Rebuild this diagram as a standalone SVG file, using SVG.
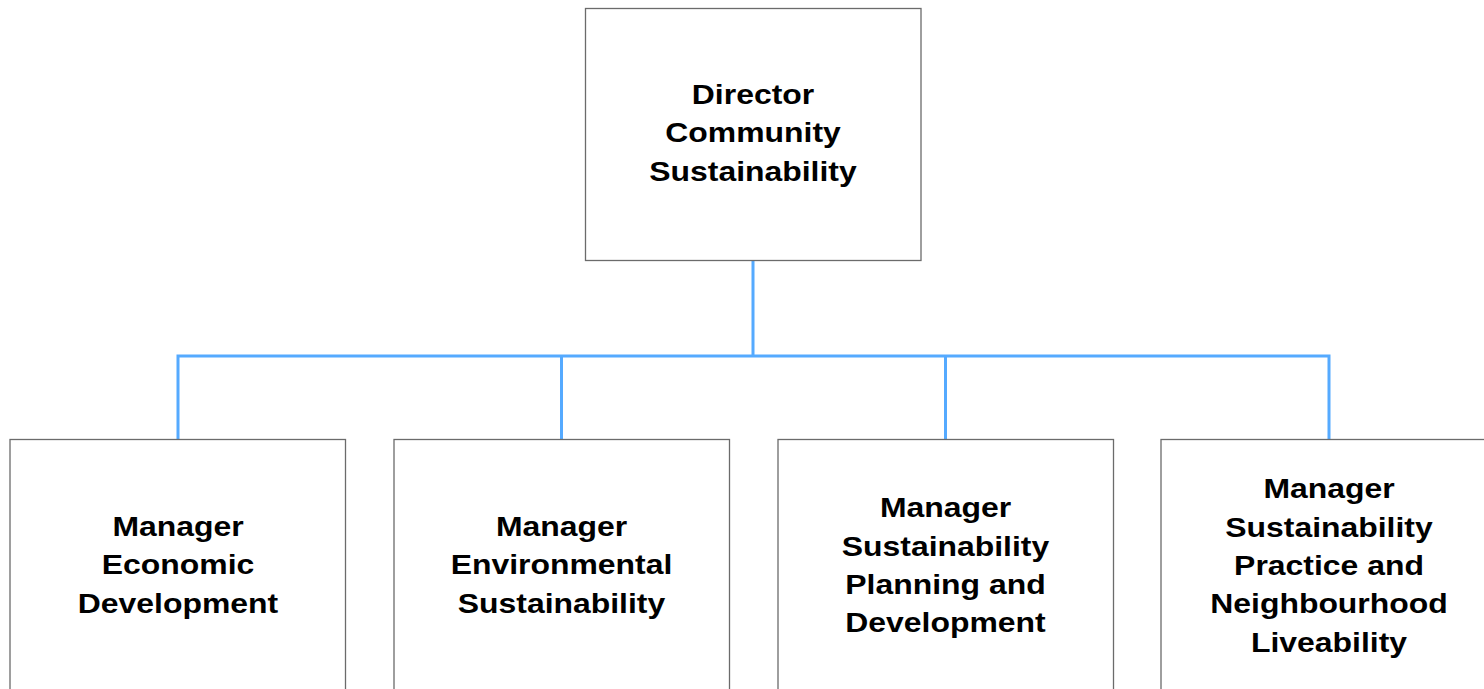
<svg xmlns="http://www.w3.org/2000/svg" width="1484" height="689" viewBox="0 0 1484 689">
<style>
.box{fill:#ffffff;stroke:#6b6b6b;stroke-width:1.3}
.lbl{font-family:"Liberation Sans",Arial,sans-serif;font-weight:bold;font-size:28px;fill:#000;text-anchor:middle}
.conn{fill:none;stroke:#55aaff;stroke-width:3}
</style>
<rect width="1484" height="689" fill="#ffffff"/>
<g id="connectors">
<path class="conn" d="M753 261 V356 M178 439 V356 H1329 V439 M561.5 356 V439 M945.5 356 V439"/>
</g>
<g id="director">
<rect class="box" x="585.5" y="8.5" width="335.5" height="252"/>
<g transform="translate(753 0) scale(1.14 1)">
<text class="lbl" x="0" y="104">Director</text>
<text class="lbl" x="0" y="142.5">Community</text>
<text class="lbl" x="0" y="181">Sustainability</text>
</g>
</g>
<g id="mgr-economic">
<rect class="box" x="10" y="439.5" width="335.5" height="252"/>
<g transform="translate(178 0) scale(1.14 1)">
<text class="lbl" x="0" y="536">Manager</text>
<text class="lbl" x="0" y="574.5">Economic</text>
<text class="lbl" x="0" y="613">Development</text>
</g>
</g>
<g id="mgr-environmental">
<rect class="box" x="394" y="439.5" width="335.5" height="252"/>
<g transform="translate(561.5 0) scale(1.14 1)">
<text class="lbl" x="0" y="536">Manager</text>
<text class="lbl" x="0" y="574.5">Environmental</text>
<text class="lbl" x="0" y="613">Sustainability</text>
</g>
</g>
<g id="mgr-planning">
<rect class="box" x="778" y="439.5" width="335.5" height="252"/>
<g transform="translate(945.5 0) scale(1.14 1)">
<text class="lbl" x="0" y="517.5">Manager</text>
<text class="lbl" x="0" y="555.8">Sustainability</text>
<text class="lbl" x="0" y="594.2">Planning and</text>
<text class="lbl" x="0" y="632.5">Development</text>
</g>
</g>
<g id="mgr-practice">
<rect class="box" x="1161" y="439.5" width="335.5" height="252"/>
<g transform="translate(1329 0) scale(1.14 1)">
<text class="lbl" x="0" y="498.5">Manager</text>
<text class="lbl" x="0" y="536.8">Sustainability</text>
<text class="lbl" x="0" y="575.1">Practice and</text>
<text class="lbl" x="0" y="613.4">Neighbourhood</text>
<text class="lbl" x="0" y="651.7">Liveability</text>
</g>
</g>
</svg>
